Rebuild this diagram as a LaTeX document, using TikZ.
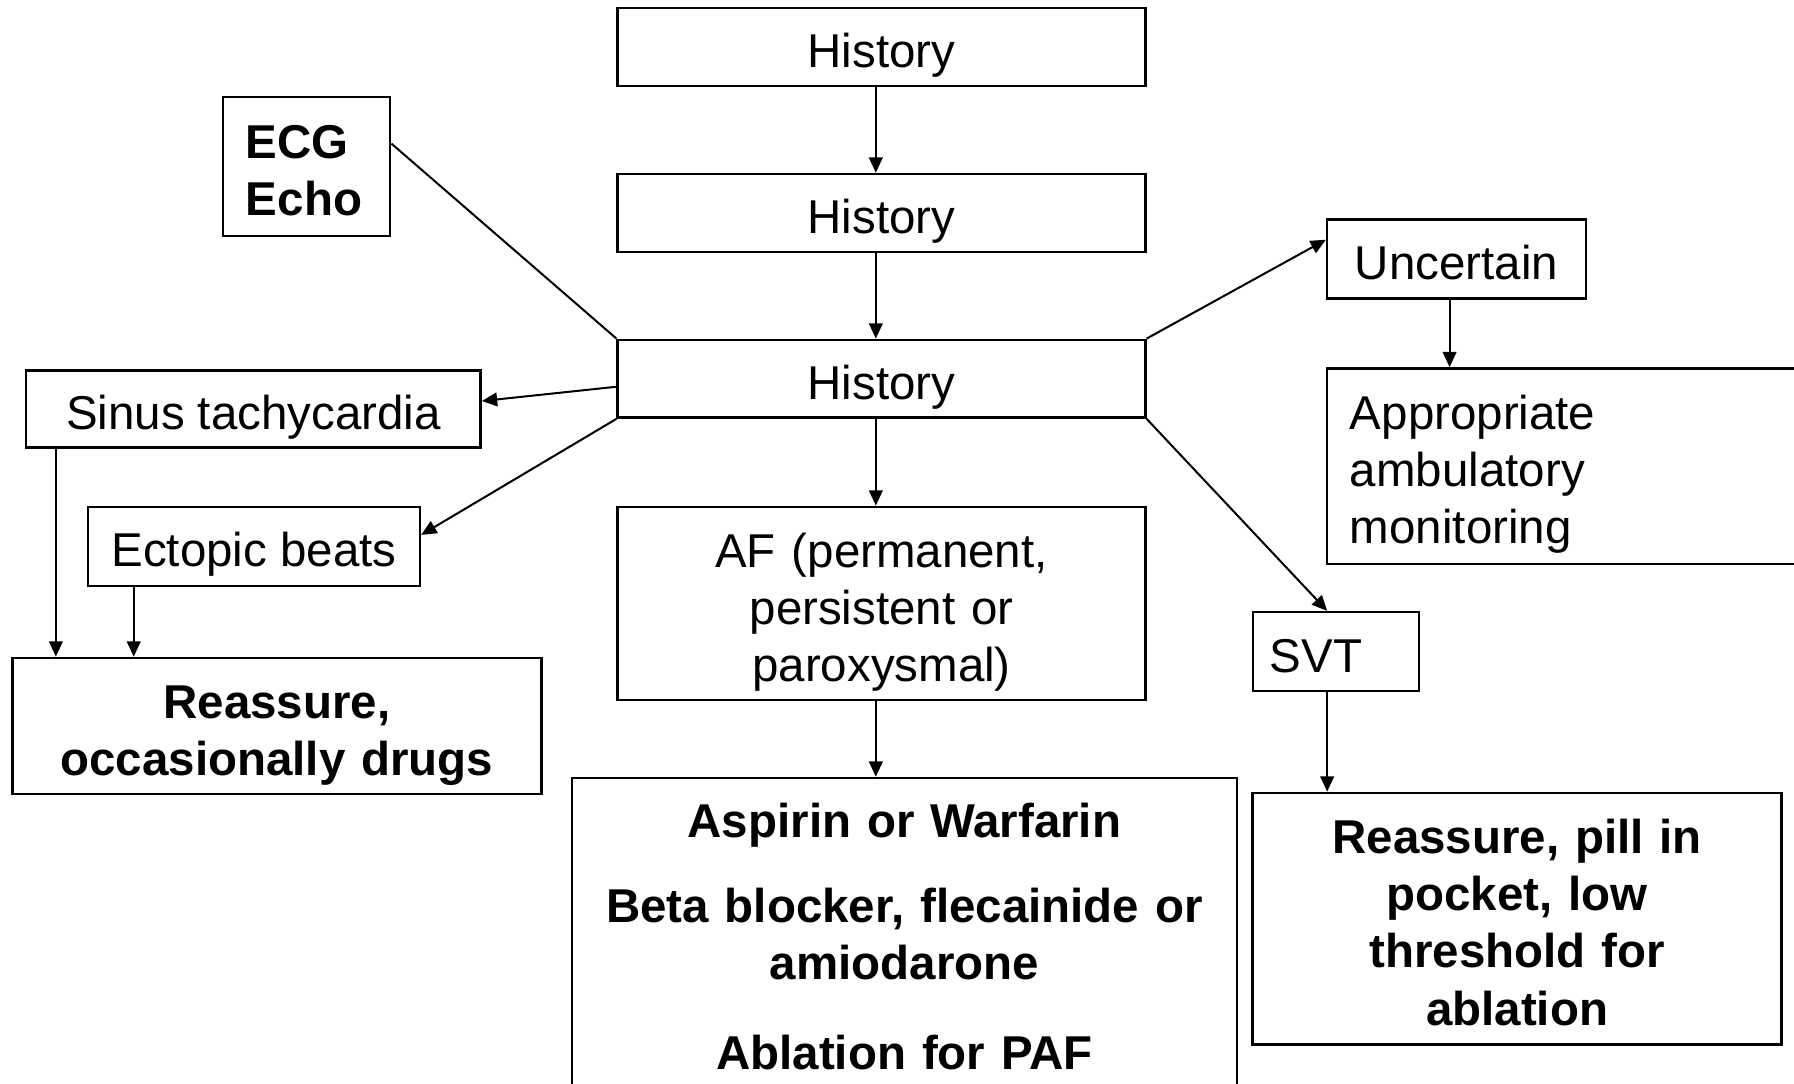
\documentclass[tikz,border=0pt]{standalone}
\usepackage{fontspec}
\setmainfont{Liberation Sans}
\usetikzlibrary{arrows.meta}

\begin{document}
\begin{tikzpicture}[x=0.01cm, y=-0.01cm, >={Triangle[length=3.8pt,width=3.4pt]},
  chartbox/.style={draw, line width=0.6pt, inner sep=0pt, align=center, font=\fontsize{11.8}{14.2}\selectfont,
    execute at begin node={\rule[-0.1cm]{0pt}{0.56cm}},
    execute at end node={\rule[-0.1cm]{0pt}{0.1cm}}},
  boldbox/.style={chartbox, font=\fontsize{11.8}{14.2}\selectfont\bfseries},
  link/.style={line width=0.5pt}]

  \useasboundingbox (0,0) rectangle (1568,947);

  % History column
  \node[chartbox, minimum width=4.61cm, minimum height=0.68cm] (hist1) at (770.5,41) {History};
  \node[chartbox, minimum width=4.61cm, minimum height=0.68cm] (hist2) at (770.5,186) {History};
  \node[chartbox, minimum width=4.61cm, minimum height=0.68cm] (hist3) at (770.5,331) {History};
  \node[boldbox, align=left, text width=1.06cm, inner xsep=0.2cm, minimum height=1.21cm] (ecg) at (268,145.5) {ECG\\Echo};

  % Left branch
  \node[chartbox, minimum width=3.97cm, minimum height=0.67cm] (sinus) at (221.5,357.5) {Sinus tachycardia};
  \node[chartbox, minimum width=2.90cm, minimum height=0.69cm] (ectopic) at (222,477.5) {Ectopic beats};
  \node[boldbox, text width=4.62cm, minimum height=1.19cm] (reassure) at (242,634.5) {Reassure,\\occasionally drugs};

  % Middle branch
  \node[chartbox, text width=4.61cm, minimum height=1.69cm] (af) at (770.5,527.5) {AF (permanent,\\persistent or\\paroxysmal)};
  \node[boldbox, text width=5.81cm, minimum height=2.71cm] (afdrugs) at (790.5,815.5)
    {Aspirin or Warfarin\\[0.24cm]Beta blocker, flecainide or\\amiodarone\\[0.29cm]Ablation for PAF};

  % Right branch
  \node[chartbox, minimum width=2.26cm, minimum height=0.69cm] (uncertain) at (1273,226.5) {Uncertain};
  \node[chartbox, align=left, text width=3.8cm, inner xsep=0.2cm, minimum height=1.71cm] (ambul) at (1370,407.5)
    {Appropriate\\ambulatory\\monitoring};
  \node[chartbox, align=left, text width=1.15cm, inner xsep=0.15cm, minimum height=0.69cm] (svt) at (1167.5,569.5) {SVT};
  \node[boldbox, text width=4.62cm, minimum height=2.20cm] (svtrx) at (1326,803)
    {Reassure, pill in\\pocket, low\\threshold for\\ablation};

  % Connectors
  \draw[link, ->] ([xshift=-0.05cm]hist1.south) -- ([xshift=-0.05cm]hist2.north);
  \draw[link, ->] ([xshift=-0.05cm]hist2.south) -- ([xshift=-0.05cm]hist3.north);
  \draw[link, ->] ([xshift=-0.05cm]hist3.south) -- ([xshift=-0.05cm]af.north);
  \draw[link, ->] ([xshift=-0.05cm]af.south) -- ([xshift=-0.05cm]af.south |- afdrugs.north);
  \draw[link] ([yshift=0.2cm]ecg.east) -- (hist3.north west);
  \draw[link, ->] ([yshift=-0.07cm]hist3.west) -- ([yshift=0.07cm]sinus.east);
  \draw[link, ->] (hist3.south west) -- ([yshift=0.1cm]ectopic.east);
  \draw[link, ->] (hist3.north east) -- ([yshift=0.17cm]uncertain.west);
  \draw[link, ->] (hist3.south east) -- ([xshift=-0.075cm]svt.north);
  \draw[link, ->] ([xshift=-0.06cm]uncertain.south) -- ([xshift=-0.06cm]uncertain.south |- ambul.north);
  \draw[link, ->] ([xshift=-0.075cm]svt.south) -- ([xshift=-0.075cm]svt.south |- svtrx.north);
  \draw[link, ->] ([xshift=0.27cm]sinus.south west) -- ([xshift=0.27cm]sinus.south west |- reassure.north);
  \draw[link, ->] ([xshift=0.41cm]ectopic.south west) -- ([xshift=0.41cm]ectopic.south west |- reassure.north);

\end{tikzpicture}
\end{document}
